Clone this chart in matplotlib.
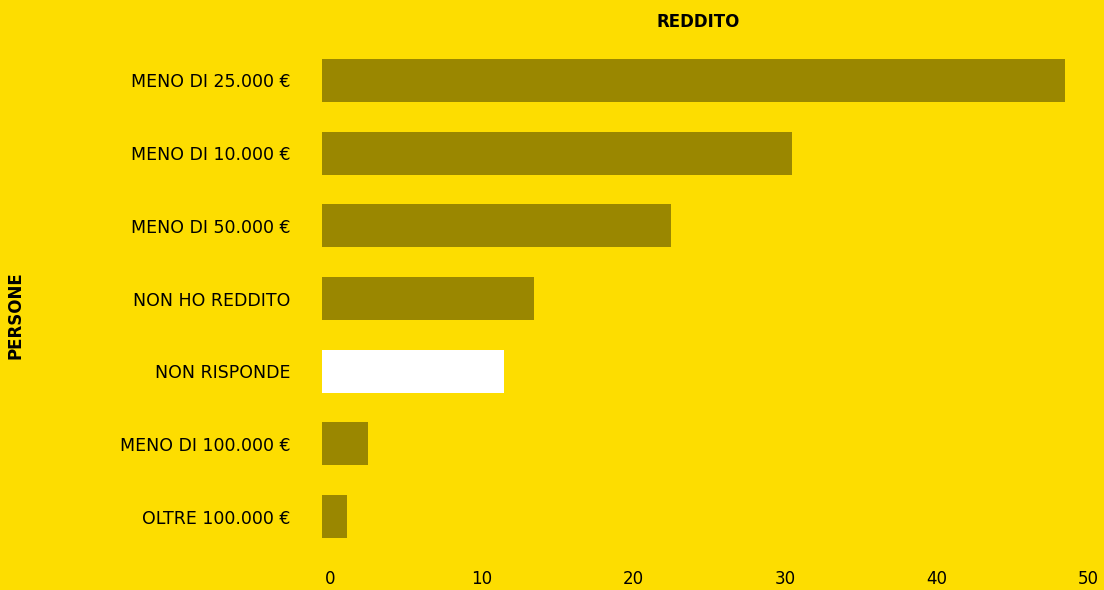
import matplotlib
matplotlib.use("Agg")
import matplotlib.pyplot as plt
import matplotlib.transforms as mtransforms

# Reddito delle persone intervistate
categorie = ["MENO DI 25.000 €", "MENO DI 10.000 €", "MENO DI 50.000 €",
             "NON HO REDDITO", "NON RISPONDE", "MENO DI 100.000 €",
             "OLTRE 100.000 €"]
persone = [49, 31, 23, 14, 12, 3, 1.65]
evidenzia = "NON RISPONDE"
ticks_x = [0, 10, 20, 30, 40, 50]

sfondo = "#FDDD00"
oliva = "#9A8700"

plt.rcParams["font.family"] = ["DejaVu Sans"]

fig = plt.figure(figsize=(11.04, 5.9), dpi=100, facecolor=sfondo)
ax = fig.add_axes([322 / 1104, (590 - 553) / 590, (1080.5 - 322) / 1104, 509 / 590])
ax.set_facecolor(sfondo)

pos = list(range(len(categorie)))
colori = ["white" if c == evidenzia else oliva for c in categorie]
ax.barh(pos, persone, height=0.59, color=colori, linewidth=0)

ax.set_ylim(len(categorie) - 0.5, -0.5)
ax.set_xlim(0, 50)
ax.set_yticks(pos)
ax.set_yticklabels(categorie, fontsize=12.5)
ax.set_xticks(ticks_x)
ax.set_xticklabels([str(t) for t in ticks_x], fontsize=12)
ax.tick_params(axis="y", length=0, pad=23)
ax.tick_params(axis="x", length=0, pad=12)

# sposta leggermente le etichette dell'asse x verso destra
sposta = mtransforms.ScaledTranslation(8 / 100, 0, fig.dpi_scale_trans)
for lbl in ax.get_xticklabels():
    lbl.set_transform(lbl.get_transform() + sposta)

for s in ax.spines.values():
    s.set_visible(False)

fig.text(698 / 1104, 1 - 22 / 590, "REDDITO", ha="center", va="center",
         fontsize=12, fontweight="heavy")
fig.text(16 / 1104, 1 - 315 / 590, "PERSONE", ha="center", va="center",
         rotation=90, fontsize=12, fontweight="heavy")

fig.savefig("out.png", dpi=100, facecolor=sfondo)
